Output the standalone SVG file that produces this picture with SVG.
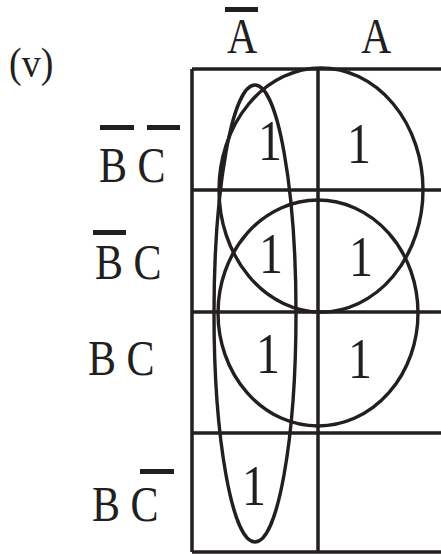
<svg xmlns="http://www.w3.org/2000/svg" width="441" height="554" viewBox="0 0 441 554">
<style>
.t{font-family:"Liberation Serif","Times New Roman",serif;fill:#231f20;font-size:42px}
.one{font-family:"Liberation Serif","Times New Roman",serif;fill:#231f20;font-size:48px;text-anchor:middle}
.g{stroke:#231f20;stroke-width:3.5;fill:none}
.loop{stroke:#231f20;stroke-width:3.4;fill:none}
.bar{fill:#231f20}
</style>
<rect width="441" height="554" fill="#ffffff"/>
<g id="title"><text class="t" transform="translate(9,77) scale(1,1.1)" style="font-size:38px">(v)</text></g>
<g id="col-labels">
<text class="t" transform="translate(227,53) scale(1,1.2)">A</text>
<rect class="bar" x="225" y="7" width="33" height="5"/>
<text class="t" transform="translate(361,53) scale(1,1.2)">A</text>
</g>
<g id="row-labels">
<text class="t" transform="translate(99,182) scale(1,1.2)">B C</text>
<rect class="bar" x="100" y="125" width="34" height="5"/>
<rect class="bar" x="147" y="125" width="33" height="5"/>
<text class="t" transform="translate(95,279) scale(1,1.2)">B C</text>
<rect class="bar" x="93" y="230" width="33" height="5"/>
<text class="t" transform="translate(88,375) scale(1,1.2)">B C</text>
<text class="t" transform="translate(92,521) scale(1,1.2)">B C</text>
<rect class="bar" x="140" y="469" width="34" height="5"/>
</g>
<g id="grid">
<path class="g" d="M192 69H441M192 190H441M192 312H441M192 433H441M192 552H441M192 69V552M318 69V552"/>
</g>
<g id="cells">
<text class="one" transform="translate(270,160) scale(1,1.2)">1</text>
<text class="one" transform="translate(359,163) scale(1,1.2)">1</text>
<text class="one" transform="translate(271,273) scale(1,1.2)">1</text>
<text class="one" transform="translate(361,276) scale(1,1.2)">1</text>
<text class="one" transform="translate(268,373) scale(1,1.2)">1</text>
<text class="one" transform="translate(360,378) scale(1,1.2)">1</text>
<text class="one" transform="translate(254,505) scale(1,1.2)">1</text>
</g>
<g id="loops">
<ellipse id="loop-top" class="loop" cx="321" cy="190" rx="102" ry="122"/>
<ellipse id="loop-mid" class="loop" cx="318" cy="313" rx="100" ry="113"/>
<ellipse id="loop-col" class="loop" cx="255" cy="313.5" rx="41" ry="228.5"/>
</g>
</svg>
